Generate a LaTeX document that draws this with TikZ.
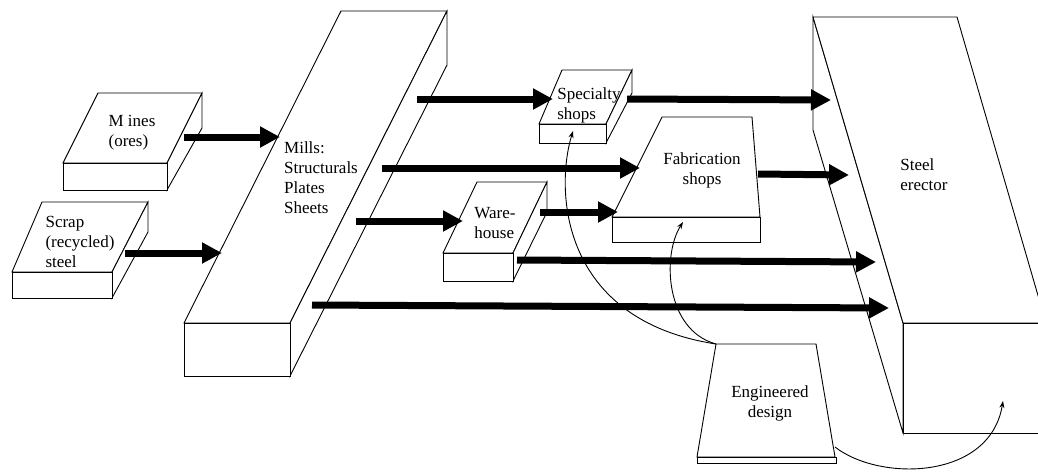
\documentclass[tikz,border=0pt]{standalone}
\usepackage{fontspec}
\setmainfont{Liberation Serif}
\usetikzlibrary{arrows.meta}

\begin{document}
\begin{tikzpicture}[
  x=1pt,y=-1pt,
  every node/.style={font=\fontsize{17}{20}\selectfont,inner sep=0pt,align=left},
  slab/.style={draw,fill=white,line width=0.9pt},
  flow/.style={every edge/.style={draw,line width=7pt,-{Triangle[length=20pt,width=20pt]}}},
  feed/.style={draw,line width=0.9pt,-{Stealth[length=7pt,width=5pt]}},
  ]
  \useasboundingbox (0,0) rectangle (1038,471);
  \clip (0,0) rectangle (1038,471);
  % mines
  \draw[slab] (98,93) -- (202,93) -- (167,163) -- (63,163) -- cycle;
  \draw[slab] (167,163) -- (202,93) -- (202,128) -- (167,190) -- cycle;
  \draw[slab] (63,163) rectangle (167,190);
  % scrap
  \draw[slab] (42,202) -- (148,202) -- (112,272) -- (12,272) -- cycle;
  \draw[slab] (112,272) -- (148,202) -- (148,232) -- (112,298) -- cycle;
  \draw[slab] (12,272) rectangle (112,298);
  % mills
  \draw[slab] (341,11) -- (447,11) -- (290,323) -- (184,323) -- cycle;
  \draw[slab] (290,323) -- (447,11) -- (447,65) -- (290,376) -- cycle;
  \draw[slab] (184,323) rectangle (290,376);
  % specialty shops
  \draw[slab] (562,70) -- (632,70) -- (606,124) -- (539,124) -- cycle;
  \draw[slab] (606,124) -- (632,70) -- (632,93) -- (606,143) -- cycle;
  \draw[slab] (539,124) rectangle (606,143);
  % warehouse
  \draw[slab] (477,182) -- (547,182) -- (513,253) -- (443,253) -- cycle;
  \draw[slab] (513,253) -- (547,182) -- (547,212) -- (513,281) -- cycle;
  \draw[slab] (443,253) rectangle (513,281);
  % fabrication shops
  \draw[slab] (662,117) -- (752,117) -- (760,217) -- (612,217) -- cycle;
  \draw[slab] (612,217) rectangle (760,242);
  % engineered design
  \draw[slab] (716,344) -- (816,344) -- (835,457) -- (697,457) -- cycle;
  \draw[slab] (697,457) rectangle (836,463);
  % steel erector
  \draw[slab] (813,17) -- (903,323) -- (903,433) -- (813,130) -- cycle;
  \draw[slab] (813,17) -- (957,17) -- (1046,323) -- (903,323) -- cycle;
  \draw[slab] (903,323) rectangle (1060,433);

  \node (mines) at (132,133) {M ines\\(ores)};
  \node (scrap) at (80,242) {Scrap\\(recycled)\\steel};
  \node (mills) at (321,178) {Mills:\\Structurals\\Plates\\Sheets};
  \node (spec) at (589,105) {Specialty\\shops};
  \node (fab) [align=center] at (702,170) {Fabrication\\shops};
  \node (ware) at (495,223) {Ware-\\house};
  \node (eng) [align=center] at (770,403) {Engineered\\design};
  \node (erec) at (924,175) {Steel\\erector};

  \coordinate (mines-o) at (184,137);
  \coordinate (mills-i1) at (280,137);
  \coordinate (scrap-o) at (125,253);
  \coordinate (mills-i2) at (222,253);
  \coordinate (mills-o1) at (417,99);
  \coordinate (spec-i) at (553,99);
  \coordinate (mills-o2) at (382,168);
  \coordinate (fab-i1) at (640,168);
  \coordinate (mills-o3) at (356,221);
  \coordinate (ware-i) at (463,221);
  \coordinate (mills-o4) at (312,305);
  \coordinate (erec-i4) at (889,308);
  \coordinate (spec-o) at (627,99);
  \coordinate (erec-i1) at (831,100);
  \coordinate (fab-o) at (758,174);
  \coordinate (erec-i2) at (849,175);
  \coordinate (ware-o1) at (540,212);
  \coordinate (fab-i2) at (618,212);
  \coordinate (ware-o2) at (517,260);
  \coordinate (erec-i3) at (876,262);
  \path[flow]
  (mines-o) edge (mills-i1)
  (scrap-o) edge (mills-i2)
  (mills-o1) edge (spec-i)
  (mills-o2) edge (fab-i1)
  (mills-o3) edge (ware-i)
  (mills-o4) edge (erec-i4)
  (spec-o) edge (erec-i1)
  (fab-o) edge (erec-i2)
  (ware-o1) edge (fab-i2)
  (ware-o2) edge (erec-i3);

  \coordinate (eng-tl) at (716,344);
  \coordinate (eng-r) at (835,447);
  \coordinate (spec-b) at (573,131);
  \coordinate (fab-b) at (683,222);
  \coordinate (erec-b) at (1003,401);
  \draw[feed] (eng-tl) .. controls (560,320) and (555,190) .. (spec-b);
  \draw[feed] (eng-tl) .. controls (665,330) and (662,255) .. (fab-b);
  \draw[feed] (eng-r) .. controls (880,482) and (990,480) .. (erec-b);
\end{tikzpicture}
\end{document}
